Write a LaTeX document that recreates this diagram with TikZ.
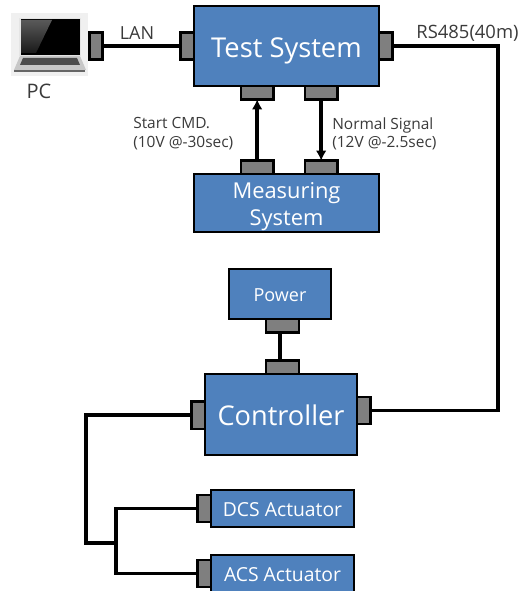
\documentclass[tikz,border=0pt]{standalone}
\usepackage{fontspec}
\setmainfont{Open Sans}
\usepackage{xcolor}
\usetikzlibrary{positioning, arrows.meta}
\definecolor{boxblue}{HTML}{4F81BD}
\definecolor{portgray}{HTML}{7F7F7F}
\definecolor{labelgray}{HTML}{3A3A3A}
\newcommand{\fs}[1]{\fontsize{#1}{1.2\dimexpr#1pt\relax}\selectfont}
\tikzset{
    box/.style={draw, line width=1.8pt, fill=boxblue, text=white, inner sep=0pt, outer sep=0pt, align=center},
    bigbox/.style={box, text height=22pt, text depth=5pt},
    actbox/.style={box, minimum width=107.25pt, minimum height=27.75pt, font=\fs{14.5}, text height=15.5pt, text depth=3.7pt},
    port/.style={draw, line width=1.8pt, fill=portgray, inner sep=0pt, outer sep=0pt},
    sideport/.style={port, minimum width=10pt, minimum height=20.5pt},
    topport/.style={port, minimum width=24.5pt, minimum height=10pt},
    wire/.style={line width=2.6pt},
    label/.style={text=labelgray, inner sep=0pt}
}

\begin{document}
\begin{tikzpicture}[x=0.75pt, y=-0.75pt]
    \useasboundingbox (0,0) rectangle (527,591);

    % laptop
    \fill[black!6] (11,13) rectangle (88,76);
    \fill[black!10] (19,18) rectangle (81,56);
    \fill[black] (20.5,19.5) rectangle (79.5,55);
    \shade[top color=black!65, bottom color=black!90] (21,20) -- (52,20) -- (36,53) -- (21,53) -- cycle;
    \fill[black!22] (20,56) -- (80,56) -- (86,70) -- (14,70) -- cycle;
    \fill[black!70] (23,58) -- (77,58) -- (80,65) -- (20,65) -- cycle;
    \fill[black!60] (14,70) rectangle (85,72);

    \node (pcport) [sideport] at (96,46) {};
    \node (pc) [label, font=\fs{15}] at (39,91) {PC};

    \node (test) [bigbox, minimum width=138.75pt, minimum height=60pt, font=\fs{20.5}] at (286.5,46) {Test System};
    \node (testl) [sideport, left=0pt of test] {};
    \node (testr) [sideport, right=0pt of test] {};
    \node (testa) [topport, below=0pt of test, xshift=-22pt] {};
    \node (testb) [topport, below=0pt of test, xshift=26pt] {};

    \node (meas) [box, minimum width=138.75pt, minimum height=43.5pt, font=\fs{16.4}] at (286.5,203) {\rule{0pt}{17.6pt}Measuring\\System};
    \node (measa) [topport, above=0pt of meas, xshift=-22pt] {};
    \node (measb) [topport, above=0pt of meas, xshift=26pt] {};

    \node (power) [box, minimum width=76.5pt, minimum height=37.5pt, font=\fs{13.5}, text height=15pt, text depth=3.5pt] at (280,294) {Power};
    \node (powerp) [topport, below=0pt of power, xshift=1.9pt] {};

    \node (ctrl) [bigbox, minimum width=114pt, minimum height=60.75pt, font=\fs{20.4}] at (281,414.5) {Controller};
    \node (ctrlt) [topport, above=0pt of ctrl, xshift=1.1pt] {};
    \node (ctrll) [sideport, left=0pt of ctrl, yshift=-0.5pt] {};
    \node (ctrlr) [sideport, right=0pt of ctrl, yshift=3pt] {};

    \node (dcs) [actbox] at (282.5,508.5) {DCS Actuator};
    \node (dcsp) [sideport, left=0pt of dcs] {};
    \node (acs) [actbox] at (282.5,573.5) {ACS Actuator};
    \node (acsp) [sideport, left=0pt of acs] {};

    \node (lan) [label, font=\fs{13.5}] at (137,33) {LAN};
    \node (rs) [label, font=\fs{13.8}] at (467.5,33) {RS485(40m)};
    \node (start) [label, font=\fs{11.6}, align=left, anchor=north west] at (133,117) {Start CMD.\\(10V @-30sec)};
    \node (normal) [label, font=\fs{11.6}, align=left, anchor=north west] at (332,117) {Normal Signal\\(12V @-2.5sec)};

    \coordinate (rsbend) at (498,230);
    \coordinate (leftbend) at (86,543);
    \coordinate (split) at (116,543);

    \draw[wire] (pcport) -- (testl);
    \draw[wire] (testr) -| (rsbend) |- (ctrlr);
    \draw[wire, -{Latex[length=7.5pt, width=8pt]}] (measa) -- (testa);
    \draw[wire, -{Latex[length=7.5pt, width=8pt]}] (testb) -- (measb);
    \draw[wire] (power |- powerp.south) -- (power |- ctrlt.north);
    \draw[wire] (ctrll) -| (leftbend) -- (split);
    \draw[wire] (dcsp) -| (split) |- (acsp);
\end{tikzpicture}
\end{document}
